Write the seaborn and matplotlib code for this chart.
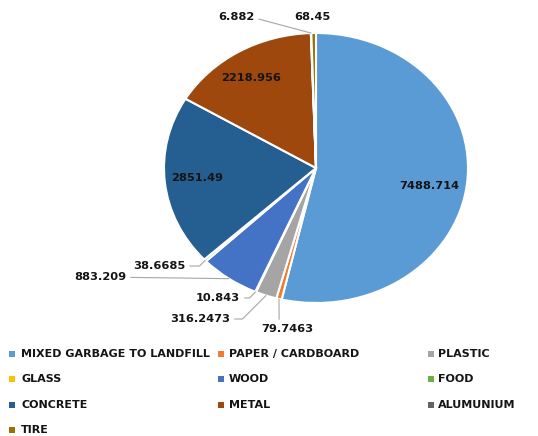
import matplotlib
matplotlib.use('Agg')
import matplotlib.pyplot as plt
import seaborn as sns
import numpy as np
from matplotlib.patches import Rectangle

categories = ["MIXED GARBAGE TO LANDFILL", "PAPER / CARDBOARD", "PLASTIC", "GLASS", "WOOD",
              "FOOD", "CONCRETE", "METAL", "ALUMUNIUM", "TIRE"]
values = [7488.714, 79.7463, 316.2473, 10.843, 883.209, 38.6685, 2851.49, 2218.956, 6.882, 68.45]
value_labels = ["7488.714", "79.7463", "316.2473", "10.843", "883.209", "38.6685",
                "2851.49", "2218.956", "6.882", "68.45"]
colors = ["#5B9BD5", "#ED7D31", "#A5A5A5", "#FFC000", "#4472C4", "#70AD47",
          "#255E91", "#9E480E", "#636363", "#997300"]

sns.set_theme(style="white")
plt.rcParams['font.family'] = ['DejaVu Sans']
palette = sns.color_palette(colors)

W, H = 538, 436
fig = plt.figure(figsize=(W / 100, H / 100), dpi=100)
ax = fig.add_axes([0, 0, 1, 1])
cx, cy, rx, ry = 316, 168, 152, 135
wedges, _ = ax.pie(values, colors=palette, startangle=90, counterclock=False, radius=1,
                   wedgeprops=dict(edgecolor='white', linewidth=1.5))
ax.set_aspect('auto')
ax.set_xlim(-cx / rx, (W - cx) / rx)
ax.set_ylim((cy - H) / ry, cy / ry)
ax.axis('off')


def px2d(px, py):
    return ((px - cx) / rx, (cy - py) / ry)


# label layout (pixel positions) and leader style
label_pos = [(429, 186), (287, 329), (200, 319), (218, 298), (100, 277),
             (159, 266), (197, 178), (251, 78), (236, 17), (312, 17)]
leader = [None, 'arc3', 'angle,angleA=0,angleB=45', 'angle,angleA=0,angleB=45', 'arc3',
          'angle,angleA=0,angleB=45', None, None, 'angle,angleA=0,angleB=-15', None]
relpos = [None, (0.35, 1.0), None, None, None, None, None, None, None, None]

txt_color = '#141414'
for w, lab, pos, ld, rp in zip(wedges, value_labels, label_pos, leader, relpos):
    tx, ty = px2d(*pos)
    if ld is None:
        ax.text(tx, ty, lab, ha='center', va='center', fontsize=8.2,
                fontweight='bold', color=txt_color)
    else:
        mid = np.deg2rad((w.theta1 + w.theta2) / 2)
        anchor = (np.cos(mid), np.sin(mid))
        ap = dict(arrowstyle='-', color='#a6a6a6', lw=0.8, shrinkA=1, shrinkB=0,
                  connectionstyle=ld)
        if rp is not None:
            ap['relpos'] = rp
        ax.annotate(lab, xy=anchor, xytext=(tx, ty), textcoords='data',
                    ha='center', va='center', fontsize=8.2, fontweight='bold',
                    color=txt_color, arrowprops=ap)

# legend: row-major, 3 columns
marker_x = [9, 218, 428]
text_x = [21, 229, 438]
row_y0, row_dy = 354, 25.3
for i, (cat, col) in enumerate(zip(categories, palette)):
    r, c = divmod(i, 3)
    y = row_y0 + r * row_dy
    fig.add_artist(Rectangle((marker_x[c] / W, 1 - (y + 3) / H), 6 / W, 6 / H,
                             transform=fig.transFigure, color=col, lw=0))
    fig.text(text_x[c] / W, 1 - y / H, cat, ha='left', va='center', fontsize=8,
             fontweight='bold', color=txt_color)

fig.savefig('out.png', dpi=100)
